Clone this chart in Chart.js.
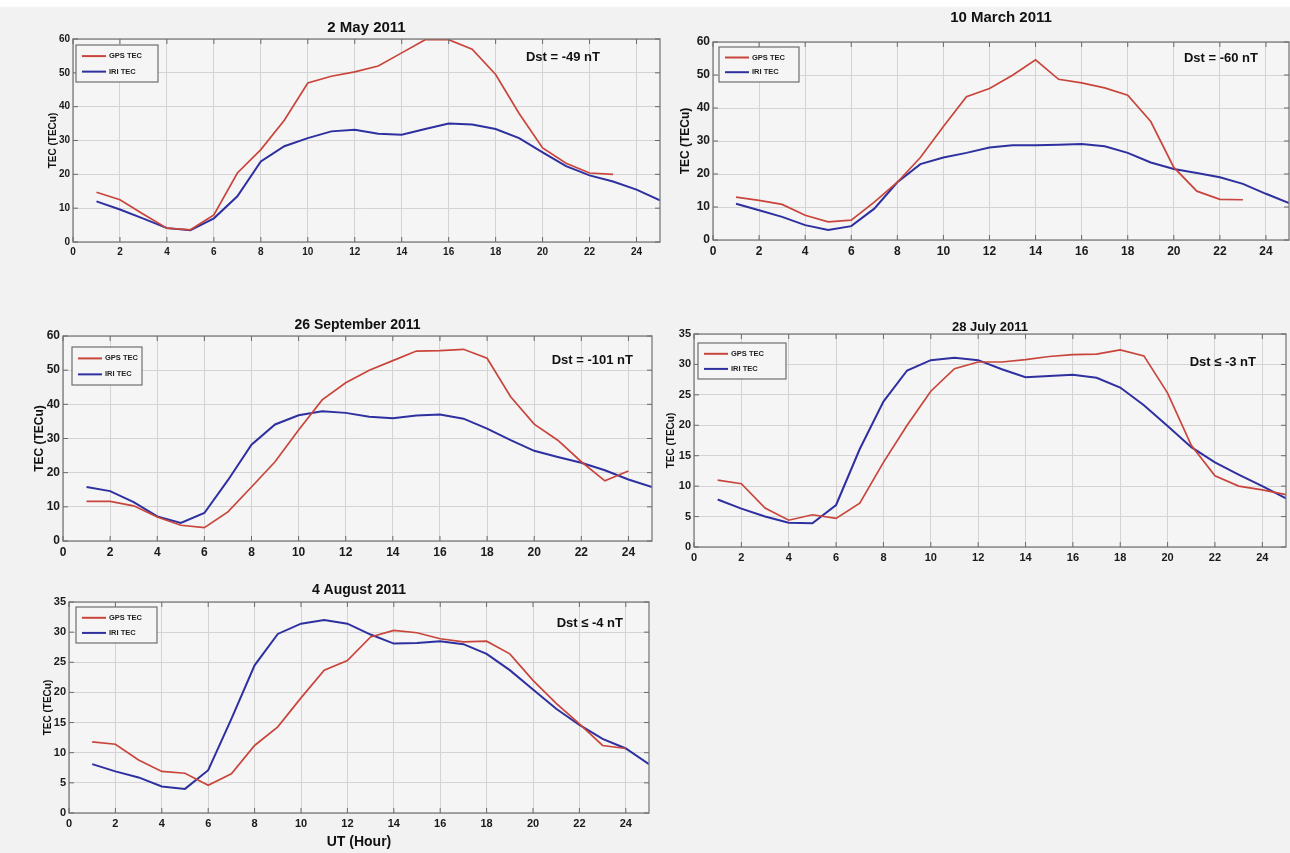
<!DOCTYPE html>
<html><head><meta charset="utf-8">
<script src="https://cdn.jsdelivr.net/npm/chart.js@4/dist/chart.umd.min.js"></script>
<style>
html,body{margin:0;padding:0;width:1290px;height:853px;overflow:hidden;}
body{background:linear-gradient(to bottom,#ffffff 0px,#ffffff 6px,#f2f2f2 8px,#f2f2f2 100%);}
canvas{position:absolute;}
</style></head><body>
<canvas id="c1"></canvas><canvas id="c2"></canvas><canvas id="c3"></canvas><canvas id="c4"></canvas><canvas id="c5"></canvas>
<script>
// ---------- DATA ----------
const hours = [1,2,3,4,5,6,7,8,9,10,11,12,13,14,15,16,17,18,19,20,21,22,23,24,25];
const seriesNames = ["GPS TEC", "IRI TEC"];
const panelTitles = ["2 May 2011", "10 March 2011", "26 September 2011", "28 July 2011", "4 August 2011"];
const dstLabels = ["Dst = -49 nT", "Dst = -60 nT", "Dst = -101 nT", "Dst \u2264 -3 nT", "Dst \u2264 -4 nT"];
const yTicks60 = [0,10,20,30,40,50,60];
const yTicks35 = [0,5,10,15,20,25,30,35];
const xTicks = [0,2,4,6,8,10,12,14,16,18,20,22,24];

const gpsMay2  = [14.7,12.5,8.2,4.1,3.6,8.0,20.4,27.3,36.0,47.0,49.0,50.3,52.0,55.9,59.8,59.8,57.0,49.5,38.0,27.8,23.3,20.4,20.0];
const iriMay2  = [12.0,9.6,6.9,4.1,3.5,7.0,13.5,23.8,28.3,30.7,32.7,33.2,32.0,31.7,33.4,35.0,34.7,33.4,30.7,26.5,22.4,19.7,17.9,15.5,12.3];

const gpsMar10 = [13.0,12.0,10.8,7.5,5.5,6.0,11.5,17.5,25.0,34.4,43.4,45.9,49.9,54.6,48.7,47.6,46.1,43.9,35.9,22.0,14.8,12.3,12.2];
const iriMar10 = [11.0,9.0,7.0,4.5,3.0,4.2,9.5,17.5,23.0,25.0,26.4,28.0,28.7,28.7,28.9,29.1,28.4,26.4,23.5,21.5,20.3,19.0,17.0,14.0,11.2];

const gpsSep26 = [11.6,11.6,10.3,7.0,4.6,3.9,8.5,15.8,23.2,32.5,41.3,46.3,50.0,52.8,55.6,55.7,56.1,53.5,42.2,34.2,29.5,23.2,17.6,20.5];
const iriSep26 = [15.8,14.6,11.4,7.2,5.3,8.2,17.8,28.2,34.1,36.8,38.0,37.5,36.4,35.9,36.7,37.0,35.8,32.9,29.5,26.4,24.6,22.9,20.7,18.0,15.8];

const gpsJul28 = [11.0,10.4,6.4,4.4,5.3,4.7,7.2,13.9,20.0,25.6,29.3,30.4,30.4,30.8,31.3,31.6,31.7,32.4,31.4,25.3,16.7,11.7,10.0,9.4,8.6];
const iriJul28 = [7.8,6.3,5.0,4.0,3.9,6.9,16.1,23.9,29.0,30.7,31.1,30.7,29.2,27.9,28.1,28.3,27.8,26.2,23.3,19.9,16.4,13.9,11.9,10.0,8.0];

const gpsAug4  = [11.8,11.4,8.8,6.9,6.6,4.6,6.5,11.2,14.3,19.1,23.7,25.3,29.2,30.3,29.9,28.9,28.4,28.5,26.4,22.0,18.2,14.8,11.2,10.7];
const iriAug4  = [8.1,6.9,5.9,4.4,4.0,7.1,15.6,24.5,29.7,31.4,32.0,31.4,29.6,28.1,28.2,28.5,28.0,26.4,23.7,20.5,17.3,14.6,12.3,10.7,8.1];

// ---------- LAYOUT / STYLE ----------
const NARROW = '"Liberation Sans Narrow","Arial Narrow","Liberation Sans",Arial,sans-serif';
const SANS = '"Liberation Sans",Arial,sans-serif';
const RED = '#c9453b', BLUE = '#2e30a0';
const YW = 62, TOPM = 40, RIGHTM = 4;

const panels = [
  {id:'c1', gps:gpsMay2, iri:iriMay2, yt:yTicks60, L:73, T:39, R:660, B:242, XH:28,
   title:{y:28, size:15, fam:SANS}, dst:{r:600, y:57, size:13}, leg:{dx:3, dy:6, w:82, h:37},
   ytitle:{d:20, size:10}, tickSize:10},
  {id:'c2', gps:gpsMar10, iri:iriMar10, yt:yTicks60, L:713, T:42, R:1289, B:240, XH:28,
   title:{y:18, size:15, fam:NARROW}, dst:{r:1258, y:58, size:13}, leg:{dx:6, dy:5, w:80, h:35},
   ytitle:{d:27, size:12}, tickSize:12},
  {id:'c3', gps:gpsSep26, iri:iriSep26, yt:yTicks60, L:63, T:336, R:652, B:541, XH:28,
   title:{y:325, size:14, fam:NARROW}, dst:{r:633, y:360, size:13}, leg:{dx:9, dy:11, w:70, h:38},
   ytitle:{d:23, size:12}, tickSize:12},
  {id:'c4', gps:gpsJul28, iri:iriJul28, yt:yTicks35, L:694, T:334, R:1286, B:547, XH:28,
   title:{y:327, size:13, fam:NARROW}, dst:{r:1256, y:362, size:13}, leg:{dx:4, dy:9, w:88, h:36},
   ytitle:{d:23, size:10}, tickSize:11},
  {id:'c5', gps:gpsAug4, iri:iriAug4, yt:yTicks35, L:69, T:602, R:649, B:813, XH:40,
   title:{y:590, size:14, fam:NARROW}, dst:{r:623, y:623, size:13}, leg:{dx:7, dy:5, w:81, h:36},
   ytitle:{d:21, size:10}, tickSize:11, xtitle:'UT (Hour)'}
];

const deco = {
  id:'deco',
  beforeDraw(chart, args, o){
    const a = chart.chartArea, c = chart.ctx;
    c.save(); c.fillStyle = '#f5f5f5'; c.fillRect(a.left, a.top, a.right-a.left, a.bottom-a.top); c.restore();
  },
  afterDatasetsDraw(chart, args, o){
    const a = chart.chartArea, c = chart.ctx, p = o.p;
    const ox = p.L - YW, oy = p.T - TOPM;
    c.save();
    c.strokeStyle = '#7c7c7c'; c.lineWidth = 1.3;
    c.strokeRect(a.left, a.top, a.right-a.left, a.bottom-a.top);
    c.lineWidth = 1; c.strokeStyle = '#6a6a6a';
    const xs = chart.scales.x, ys = chart.scales.y;
    xTicks.forEach(v => { const x = xs.getPixelForValue(v);
      c.beginPath(); c.moveTo(x, a.bottom); c.lineTo(x, a.bottom-5); c.moveTo(x, a.top); c.lineTo(x, a.top+5); c.stroke(); });
    p.yt.forEach(v => { const y = ys.getPixelForValue(v);
      c.beginPath(); c.moveTo(a.left, y); c.lineTo(a.left+5, y); c.moveTo(a.right, y); c.lineTo(a.right-5, y); c.stroke(); });
    c.fillStyle = '#111'; c.textAlign = 'center'; c.textBaseline = 'middle';
    c.font = 'bold ' + p.title.size + 'px ' + p.title.fam;
    c.fillText(o.title, (a.left + a.right)/2, p.title.y - oy);
    c.textAlign = 'right'; c.font = 'bold ' + p.dst.size + 'px ' + NARROW;
    c.fillText(o.dst, p.dst.r - ox, p.dst.y - oy);
    const lx = a.left + p.leg.dx, ly = a.top + p.leg.dy;
    c.fillStyle = '#f5f5f5'; c.fillRect(lx, ly, p.leg.w, p.leg.h);
    c.strokeStyle = '#6e6e6e'; c.lineWidth = 1.2; c.strokeRect(lx, ly, p.leg.w, p.leg.h);
    const rows = [[seriesNames[0], RED], [seriesNames[1], BLUE]];
    rows.forEach((r, i) => {
      const yy = ly + p.leg.h * (i === 0 ? 0.3 : 0.72);
      c.strokeStyle = r[1]; c.lineWidth = 2;
      c.beginPath(); c.moveTo(lx + 6, yy); c.lineTo(lx + 30, yy); c.stroke();
      c.fillStyle = '#222'; c.textAlign = 'left'; c.font = 'bold 7.5px ' + NARROW;
      c.fillText(r[0], lx + 33, yy);
    });
    c.restore();
  }
};

panels.forEach((p, i) => {
  const cv = document.getElementById(p.id);
  const w = YW + (p.R - p.L) + RIGHTM, h = TOPM + (p.B - p.T) + p.XH;
  cv.width = w; cv.height = h;
  cv.style.left = (p.L - YW) + 'px'; cv.style.top = (p.T - TOPM) + 'px';
  cv.style.width = w + 'px'; cv.style.height = h + 'px';
  const tickFont = {family: NARROW, size: p.tickSize, weight: 'bold'};
  const ytLH = p.ytitle.size * 1.2;
  new Chart(cv, {
    type: 'line',
    data: {
      datasets: [
        {label: seriesNames[0], data: p.gps.map((v, k) => ({x: hours[k], y: v})), borderColor: RED, borderWidth: 1.7},
        {label: seriesNames[1], data: p.iri.map((v, k) => ({x: hours[k], y: v})), borderColor: BLUE, borderWidth: 2}
      ]
    },
    options: {
      responsive: false, animation: false, devicePixelRatio: 1,
      layout: {padding: {top: TOPM, right: RIGHTM, left: 0, bottom: 0}},
      elements: {point: {radius: 0}, line: {tension: 0}},
      plugins: {legend: {display: false}, tooltip: {enabled: false},
        deco: {p: p, title: panelTitles[i], dst: dstLabels[i]}},
      scales: {
        x: {type: 'linear', min: 0, max: 25,
          afterBuildTicks: s => { s.ticks = xTicks.map(v => ({value: v})); },
          afterFit: s => { s.height = p.XH; },
          ticks: {autoSkip: false, maxRotation: 0, padding: 4, font: tickFont, color: '#1a1a1a'},
          grid: {color: '#d4d4d4', drawTicks: false, lineWidth: 1},
          border: {display: false},
          title: p.xtitle ? {display: true, text: p.xtitle, color: '#111', font: {family: NARROW, size: 14, weight: 'bold'}, padding: {top: 0, bottom: 2}} : {display: false}
        },
        y: {min: 0, max: p.yt[p.yt.length - 1],
          afterBuildTicks: s => { s.ticks = p.yt.map(v => ({value: v})); },
          afterFit: s => { s.width = YW; },
          ticks: {padding: 3, font: tickFont, color: '#1a1a1a'},
          grid: {color: '#d4d4d4', drawTicks: false, lineWidth: 1},
          border: {display: false},
          title: {display: true, text: 'TEC (TECu)', color: '#111',
            font: {family: SANS, size: p.ytitle.size, weight: 'bold'},
            padding: {top: (YW - p.ytitle.d) - ytLH / 2, bottom: 0}}
        }
      }
    },
    plugins: [deco]
  });
});
</script>
</body></html>
